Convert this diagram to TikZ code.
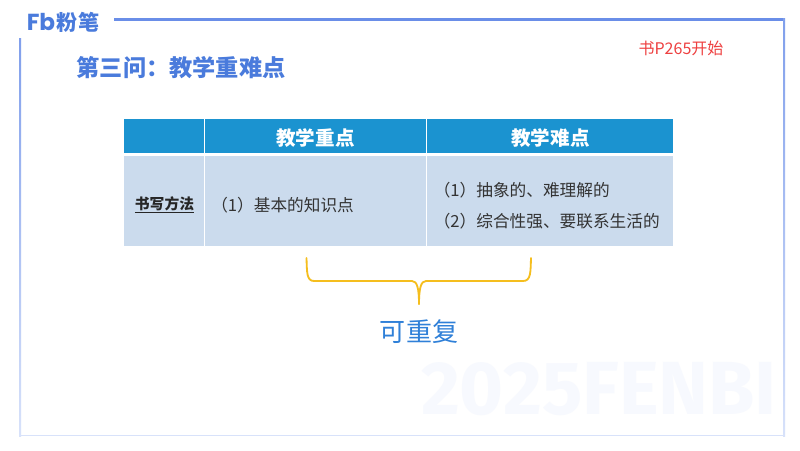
\documentclass[tikz,border=0pt]{standalone}
\usepackage{fontspec}
\setmainfont{Noto Sans CJK SC}
\newfontfamily\markfont{Fira Sans}
\newfontfamily\logofont{Poppins}
\usetikzlibrary{positioning}
\definecolor{frameblue}{HTML}{6A8EE8}
\definecolor{framepale}{HTML}{D8E2FA}
\definecolor{titleblue}{HTML}{4A7BDC}
\definecolor{headblue}{HTML}{1B93D0}
\definecolor{bodyblue}{HTML}{CBDBED}
\definecolor{braceyellow}{HTML}{F5BE1E}
\definecolor{repblue}{HTML}{2F80D8}
\definecolor{notered}{HTML}{EE4040}
\definecolor{markpale}{HTML}{F7F9FE}
\tikzset{
    headcell/.style={fill=headblue, inner sep=0pt, anchor=north west, minimum height=34*0.025cm},
    headtext/.style={text=white, font=\fontsize{13.9pt}{16pt}\selectfont\bfseries, inner sep=0pt},
    bodycell/.style={fill=bodyblue, inner sep=0pt, anchor=north west, minimum height=90.5*0.025cm},
    bodytext/.style={font=\fontsize{11.85pt}{14pt}\selectfont, text=black!80, inner sep=0pt, anchor=west}
}
\begin{document}
\begin{tikzpicture}[x=0.025cm,y=-0.025cm]
            \useasboundingbox (0,0) rectangle (800,450);
            \fill[white] (0,0) rectangle (800,450);

            % Frame
            \fill[frameblue] (114,18) rectangle (785,20.5);
            \shade[top color=frameblue!85, bottom color=framepale] (783,18) rectangle (785,436);
            \shade[top color=frameblue!85, bottom color=framepale] (19,38) rectangle (21,436);
            \fill[framepale] (19,434.5) rectangle (785,436);

            % Logo
            \node[text=titleblue, font=\fontsize{16.5pt}{18pt}\logofont\bfseries, inner sep=0pt] (logoFb) at (41,22) {Fb};
            \node[text=titleblue, font=\fontsize{15pt}{16pt}\selectfont\bfseries, inner sep=0pt] (logoName) at (78,22.5) {粉笔};

            % Watermark
            \node[text=markpale, font=\fontsize{53.5pt}{56pt}\markfont\bfseries, inner sep=0pt] (mark) at (599,389) {2025FENBI};

            % Title and note
            \node[text=titleblue, font=\fontsize{16.5pt}{18pt}\selectfont\bfseries, inner sep=0pt, anchor=west] (title) at (76.5,68) {第三问：教学重难点};
            \node[text=notered, font=\fontsize{11.4pt}{13pt}\selectfont, inner sep=0pt] (note) at (681,48) {书P265开始};

            % Table
            \node[headcell, minimum width=80*0.025cm] (headA) at (124,119) {};
            \node[headcell, minimum width=221*0.025cm] (headB) at (205,119) {};
            \node[headcell, minimum width=246*0.025cm] (headC) at (427,119) {};
            \node[bodycell, minimum width=80*0.025cm] (bodyA) at (124,155.5) {};
            \node[bodycell, minimum width=221*0.025cm] (bodyB) at (205,155.5) {};
            \node[bodycell, minimum width=246*0.025cm] (bodyC) at (427,155.5) {};

            % Labels in the cells
            \node[headtext] (headBtext) at (315.5,138) {教学重点};
            \node[headtext] (headCtext) at (550.5,138) {教学难点};
            \node[font=\fontsize{10.5pt}{12pt}\selectfont\bfseries, text=black!85, inner sep=0pt] (method) at (164.5,205) {\underline{书写方法}};
            \node[bodytext] (pointA) at (211,205) {（1）基本的知识点};
            \node[bodytext] (hardA) at (433.5,190) {（1）抽象的、难理解的};
            \node[bodytext] (hardB) at (433.5,221) {（2）综合性强、要联系生活的};

            % Brace
            \draw[braceyellow, line width=1.3pt, line cap=round] (306.5,258) .. controls (307,272) and (306.5,281) .. (314,281) -- (412,281) .. controls (417,281) and (419,288) .. (419,304);
            \draw[braceyellow, line width=1.3pt, line cap=round] (531,258) .. controls (530.5,272) and (531,281) .. (523,281) -- (426,281) .. controls (421,281) and (419,288) .. (419,304);
            \node[text=repblue, font=\fontsize{18.5pt}{20pt}\selectfont, inner sep=0pt] (repeatable) at (419,332) {可重复};
        \end{tikzpicture}
\end{document}
